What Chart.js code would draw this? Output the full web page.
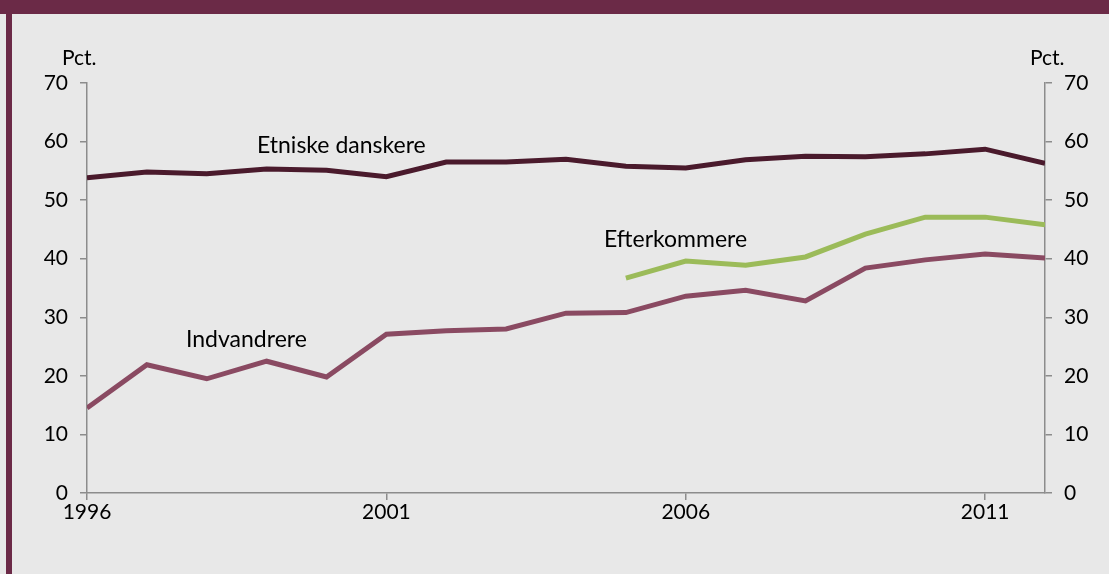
<!DOCTYPE html>
<html>
<head>
<meta charset="utf-8">
<script src="https://cdn.jsdelivr.net/npm/chart.js@4/dist/chart.umd.min.js"></script>
<style>
  html, body { margin: 0; padding: 0; background: #e8e8e8; }
  #wrap { position: absolute; left: 0; top: 0; width: 1109px; height: 574px; }
</style>
</head>
<body>
<div id="wrap"><canvas id="chart" width="1109" height="574"></canvas></div>
<script>
// Andel (pct.) - 1996 til 2012
const years = [1996, 1997, 1998, 1999, 2000, 2001, 2002, 2003, 2004, 2005, 2006, 2007, 2008, 2009, 2010, 2011, 2012];
const etniskeDanskere = [53.8, 54.8, 54.5, 55.3, 55.1, 54.0, 56.5, 56.5, 57.0, 55.8, 55.5, 56.9, 57.5, 57.4, 57.9, 58.7, 56.3];
const indvandrere = [14.5, 21.9, 19.5, 22.5, 19.8, 27.1, 27.7, 28.0, 30.7, 30.8, 33.6, 34.6, 32.8, 38.4, 39.8, 40.8, 40.1];
const efterkommere = [null, null, null, null, null, null, null, null, null, 36.7, 39.6, 38.9, 40.3, 44.2, 47.1, 47.1, 45.8];
const xTicks = [1996, 2001, 2006, 2011];
const yTicks = [0, 10, 20, 30, 40, 50, 60, 70];

const FONT = 'Lato, "Open Sans", sans-serif';

function points(values) {
    return years.map((y, i) => ({ x: y, y: values[i] }));
}

// fond, kant og tekster
const decor = {
    id: 'decor',
    beforeDraw(chart) {
        const c = chart.ctx;
        c.save();
        c.fillStyle = '#e8e8e8';
        c.fillRect(0, 0, chart.width, chart.height);
        c.fillStyle = '#6b2a47';
        c.fillRect(0, 0, chart.width, 14);
        c.fillRect(6, 0, 6, chart.height);
        c.restore();
    },
    afterDraw(chart) {
        const c = chart.ctx;
        c.save();
        c.fillStyle = '#000';
        c.font = '21px ' + FONT;
        c.textBaseline = 'middle';
        c.textAlign = 'left';
        c.fillText('Pct.', 62, 58);
        c.fillText('Pct.', 1030, 58);
        c.font = '23px ' + FONT;
        c.fillText('Etniske danskere', 257, 146);
        c.fillText('Indvandrere', 186, 340);
        c.fillText('Efterkommere', 604, 240);
        c.restore();
    }
};

const gridCommon = {
    drawOnChartArea: false,
    drawTicks: true,
    tickLength: 7,
    color: '#8c8c8c',
    lineWidth: 1.5
};

new Chart(document.getElementById('chart'), {
    type: 'line',
    data: {
        datasets: [
            { label: 'Etniske danskere', data: points(etniskeDanskere), borderColor: '#4a1a2c', borderWidth: 5, pointRadius: 0, yAxisID: 'y' },
            { label: 'Indvandrere', data: points(indvandrere), borderColor: '#8a4a62', borderWidth: 5, pointRadius: 0, yAxisID: 'y' },
            { label: 'Efterkommere', data: points(efterkommere), borderColor: '#9bbb59', borderWidth: 5, pointRadius: 0, yAxisID: 'y', spanGaps: false }
        ]
    },
    options: {
        responsive: false,
        animation: false,
        layout: { padding: { top: 83, left: 0, right: 0, bottom: 0 } },
        plugins: {
            legend: { display: false },
            tooltip: { enabled: false }
        },
        scales: {
            x: {
                type: 'linear',
                min: 1996,
                max: 2012,
                afterBuildTicks: s => { s.ticks = xTicks.map(v => ({ value: v })); },
                afterFit: s => { s.height = 81; },
                grid: gridCommon,
                border: { color: '#8c8c8c', width: 1.5 },
                ticks: { color: '#000', font: { family: FONT, size: 21 }, padding: 0, maxRotation: 0, autoSkip: false, callback: v => String(v) }
            },
            y: {
                position: 'left',
                min: 0,
                max: 70,
                afterBuildTicks: s => { s.ticks = yTicks.map(v => ({ value: v })); },
                afterFit: s => { s.width = 87; },
                grid: gridCommon,
                border: { color: '#8c8c8c', width: 1.5 },
                ticks: { color: '#000', font: { family: FONT, size: 21 }, padding: 12 }
            },
            y2: {
                position: 'right',
                min: 0,
                max: 70,
                afterBuildTicks: s => { s.ticks = yTicks.map(v => ({ value: v })); },
                afterFit: s => { s.width = 64; },
                grid: gridCommon,
                border: { color: '#8c8c8c', width: 1.5 },
                ticks: { color: '#000', font: { family: FONT, size: 21 }, padding: 12 }
            }
        }
    },
    plugins: [decor]
});
</script>
</body>
</html>
